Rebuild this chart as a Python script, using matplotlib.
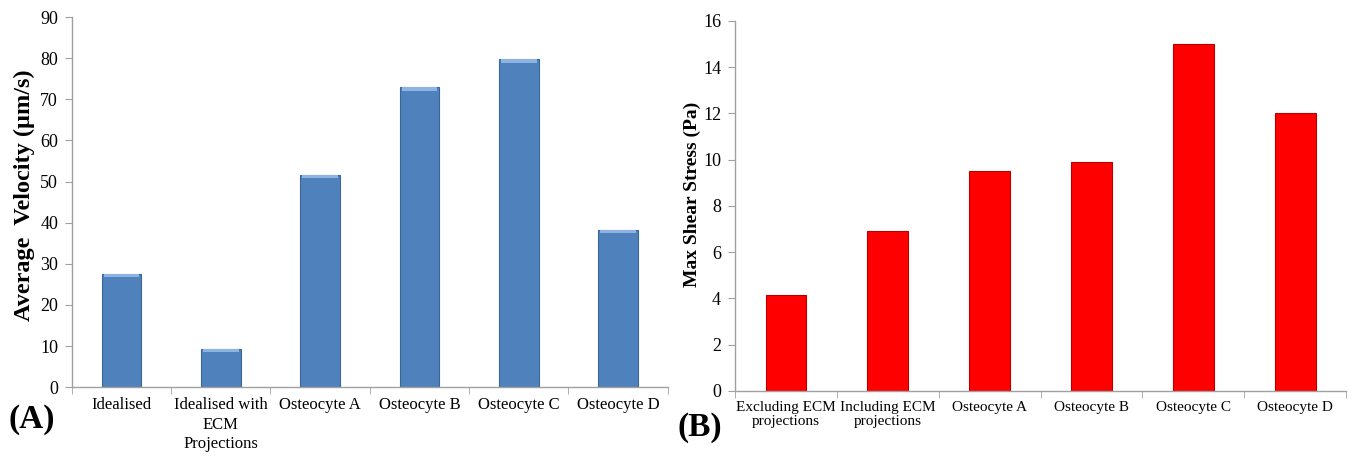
import matplotlib.pyplot as plt
import numpy as np

plt.rcParams['font.family'] = ['Liberation Serif', 'DejaVu Serif']

# panel A: average velocity
vel_labels = ['Idealised', 'Idealised with\nECM\nProjections', 'Osteocyte A',
              'Osteocyte B', 'Osteocyte C', 'Osteocyte D']
vel_values = [27.6, 9.4, 51.6, 72.9, 79.7, 38.3]

# panel B: max shear stress
shear_labels = ['Excluding ECM\nprojections', 'Including ECM\nprojections', 'Osteocyte A',
                'Osteocyte B', 'Osteocyte C', 'Osteocyte D']
shear_values = [4.15, 6.9, 9.5, 9.9, 15.0, 12.0]

fig = plt.figure(figsize=(13.57, 4.61), dpi=100)
axA = fig.add_axes([0.053, 0.160, 0.439, 0.803])
axB = fig.add_axes([0.5416, 0.152, 0.4504, 0.803])


def style_axes(ax, n):
    for s in ['top', 'right']:
        ax.spines[s].set_visible(False)
    for s in ['left', 'bottom']:
        ax.spines[s].set_color('#a0a0a0')
        ax.spines[s].set_linewidth(1.0)
    ax.set_xlim(-0.5, n - 0.5)
    # minor ticks sit on the category boundaries
    ax.set_xticks(np.arange(-0.5, n + 0.5, 1), minor=True)
    ax.tick_params(axis='x', which='major', length=0, pad=7)
    ax.tick_params(axis='x', which='minor', length=5, color='#a0a0a0', direction='out')
    ax.tick_params(axis='y', length=5, color='#a0a0a0', direction='out', pad=5)


x = np.arange(len(vel_values))
axA.bar(x, vel_values, width=0.4, color='#4f81bd', edgecolor='#3a6796', linewidth=0.8)
# lighter bevel along the top of each bar
axA.bar(x, [0.8] * len(x), bottom=np.array(vel_values) - 0.8, width=0.36,
        color='#8db3e2', linewidth=0)
style_axes(axA, len(vel_values))
axA.set_ylim(0, 90)
axA.set_yticks(np.arange(0, 91, 10))
axA.set_xticks(x)
axA.set_xticklabels(vel_labels, fontsize=12, linespacing=1.3, va='top')
axA.tick_params(axis='y', labelsize=13)
axA.set_ylabel('Average  Velocity (µm/s)', fontsize=17.5, fontweight='bold')
axA.yaxis.set_label_coords(-0.062, 0.52)

xb = np.arange(len(shear_values))
axB.bar(xb, shear_values, width=0.4, color='#ff0000', edgecolor='#b80000', linewidth=0.8)
style_axes(axB, len(shear_values))
axB.set_ylim(0, 16)
axB.set_yticks(np.arange(0, 17, 2))
axB.set_xticks(xb)
axB.set_xticklabels(shear_labels, fontsize=11, linespacing=1.1, va='top')
axB.tick_params(axis='y', labelsize=13)
axB.set_ylabel('Max Shear Stress (Pa)', fontsize=14, fontweight='bold')
axB.yaxis.set_label_coords(-0.056, 0.53)

fig.text(0.006, 0.072, '(A)', fontsize=24, fontweight='bold')
fig.text(0.499, 0.055, '(B)', fontsize=24, fontweight='bold')

fig.savefig('out.png', dpi=100)
